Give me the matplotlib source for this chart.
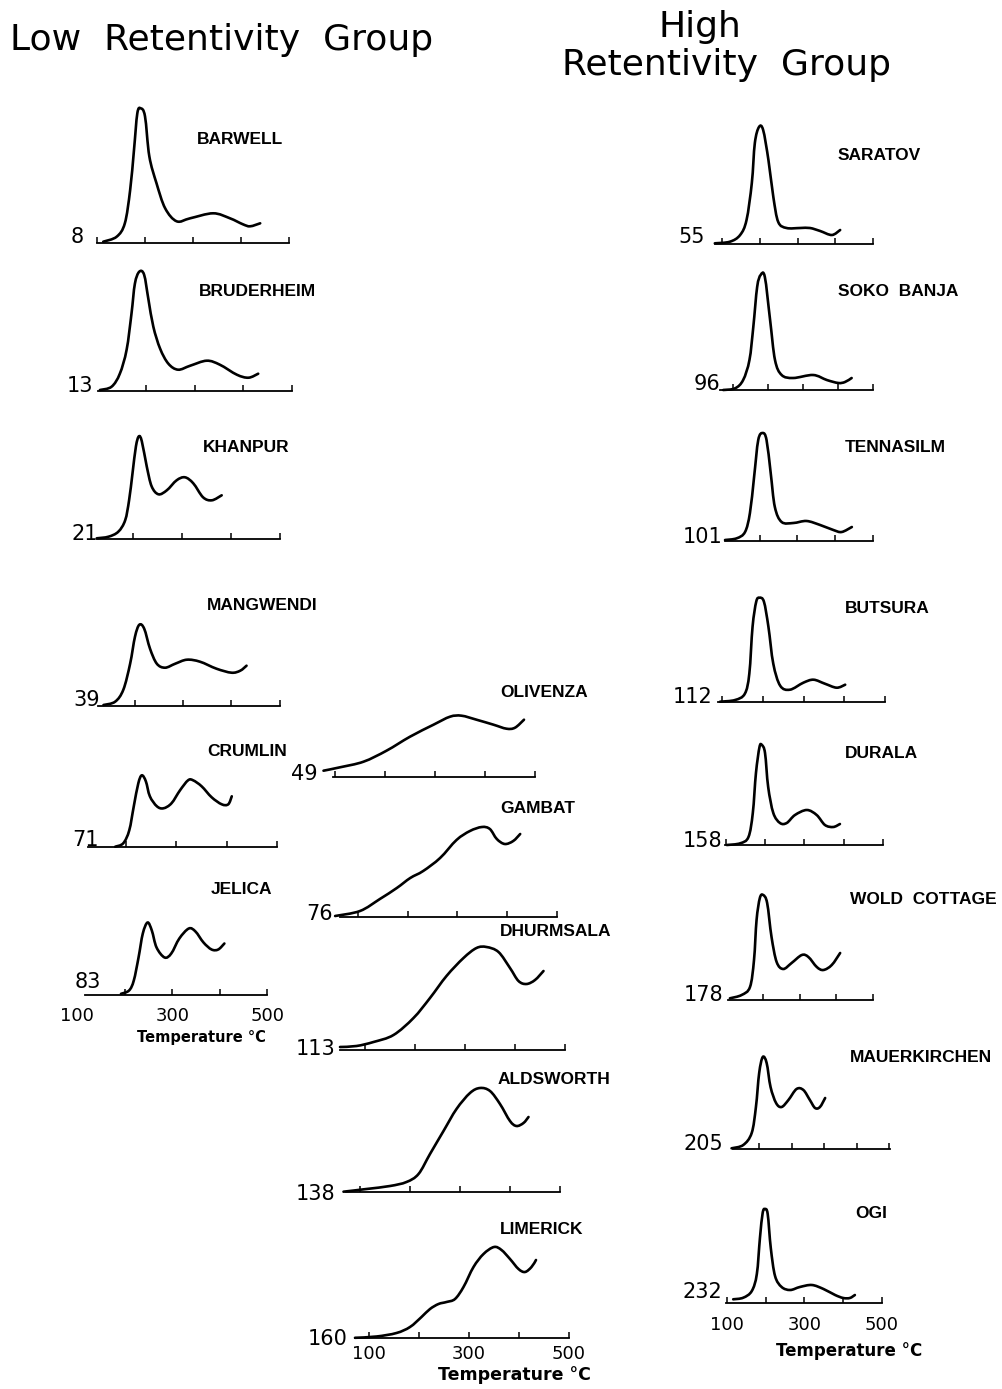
import matplotlib
matplotlib.use("Agg")
import matplotlib.pyplot as plt
from matplotlib.path import Path
from matplotlib.patches import PathPatch

W, H = 1003, 1389   # output size in pixels (dpi 100)

# --- glow curves: temperature (deg C) vs TL intensity (arbitrary units) -------
# low retentivity group
BARWELL_T = [113, 141, 158, 169, 177, 184, 191, 200, 209, 224, 242, 266, 294, 342, 377, 404, 419, 440]
BARWELL_I = [1.6, 6.6, 20, 53, 93, 130, 135, 127, 87, 60, 35, 22, 25, 30, 25, 19, 17, 20]
BRUDERHEIM_T = [105, 129, 146, 160, 170, 177, 186, 196, 205, 215, 229, 246, 266, 291, 325, 352, 387, 411, 431]
BRUDERHEIM_I = [0.7, 4, 17, 41, 77, 107, 119, 116, 91, 64, 42, 27, 21, 25, 30, 26, 16, 13, 17]
KHANPUR_T = [126, 150, 170, 184, 192, 199, 206, 212, 218, 228, 238, 252, 269, 289, 306, 323, 343, 361, 381]
KHANPUR_I = [1, 2.6, 7.6, 19, 39, 66, 93, 103, 98, 73, 53, 45, 49, 59, 62, 56, 42, 39, 44]
MANGWENDI_T = [136, 160, 177, 191, 201, 210, 220, 232, 246, 263, 284, 308, 335, 369, 400, 418, 431]
MANGWENDI_I = [0.7, 4, 16, 42, 69, 81, 77, 57, 42, 38, 42, 46, 44, 37, 33, 35, 40]
CRUMLIN_T = [178, 194, 206, 215, 224, 231, 239, 247, 261, 274, 290, 307, 323, 333, 350, 370, 390, 403, 410]
CRUMLIN_I = [0.6, 4, 17, 41, 64, 72, 66, 51, 41, 39, 44, 57, 67, 67, 61, 50, 43, 43, 51]
JELICA_T = [192, 209, 219, 229, 238, 248, 257, 267, 284, 298, 315, 335, 349, 366, 383, 397, 410]
JELICA_I = [0.7, 4, 14, 37, 61, 72, 64, 47, 37, 41, 56, 66, 63, 52, 45, 45, 51]
OLIVENZA_T = [77, 110, 157, 203, 250, 297, 330, 353, 383, 417, 443, 460, 478]
OLIVENZA_I = [6, 9.4, 15, 26, 40, 52, 60, 61, 57, 52, 48, 49, 57]
GAMBAT_T = [54, 104, 144, 178, 205, 231, 265, 298, 325, 349, 365, 379, 395, 412, 426]
GAMBAT_I = [1, 6, 18, 29, 39, 46, 59, 77, 86, 90, 88, 78, 73, 76, 83]
DHURMSALA_T = [50, 83, 117, 157, 197, 230, 263, 297, 323, 343, 367, 390, 407, 423, 440, 457]
DHURMSALA_I = [3, 4, 8, 15, 32, 52, 74, 92, 102, 103, 98, 82, 69, 66, 70, 79]
ALDSWORTH_T = [67, 113, 160, 193, 217, 240, 267, 293, 320, 340, 360, 380, 400, 413, 427, 437]
ALDSWORTH_I = [0.3, 3, 6, 10, 18, 38, 61, 83, 99, 104, 101, 88, 71, 66, 69, 75]
LIMERICK_T = [72, 115, 155, 182, 205, 222, 239, 255, 272, 289, 309, 329, 350, 365, 382, 399, 412, 425, 434]
LIMERICK_I = [0.2, 1.5, 5, 11, 21, 29, 34, 36, 39, 51, 71, 84, 91, 88, 79, 69, 66, 71, 78]
# high retentivity group
SARATOV_T = [81, 121, 148, 165, 179, 187, 198, 209, 223, 236, 249, 271, 307, 333, 360, 391, 413]
SARATOV_I = [0.7, 2.3, 9, 24, 61, 101, 117, 114, 84, 47, 22, 16, 16, 16, 13, 9, 14]
SOKO_BANJA_T = [72, 106, 129, 147, 158, 169, 179, 191, 206, 220, 239, 272, 329, 368, 401, 420, 439]
SOKO_BANJA_I = [0, 1.7, 10, 30, 63, 103, 115, 113, 70, 30, 15, 12, 15, 10, 7, 8, 12]
TENNASILM_T = [108, 139, 161, 174, 185, 196, 208, 218, 229, 240, 258, 289, 324, 360, 395, 417, 444]
TENNASILM_I = [1, 2.7, 9, 28, 64, 101, 108, 101, 68, 34, 19, 18, 20, 16, 11, 9, 14]
BUTSURA_T = [94, 131, 155, 166, 174, 183, 191, 202, 213, 225, 242, 266, 299, 324, 352, 381, 402]
BUTSURA_I = [0, 1.7, 8, 28, 75, 100, 104, 100, 75, 38, 16, 12, 19, 22, 18, 14, 17]
DURALA_T = [103, 137, 158, 169, 177, 186, 192, 200, 208, 221, 238, 255, 276, 306, 331, 352, 373, 390]
DURALA_I = [0, 1.7, 8, 32, 72, 98, 100, 92, 58, 32, 22, 22, 30, 35, 30, 20, 18, 21]
WOLD_COTTAGE_T = [108, 140, 163, 174, 181, 190, 199, 210, 222, 236, 254, 277, 305, 323, 346, 364, 387, 410]
WOLD_COTTAGE_I = [1.7, 5, 13, 40, 80, 102, 105, 97, 63, 38, 31, 37, 45, 43, 33, 30, 35, 47]
MAUERKIRCHEN_T = [114, 150, 176, 189, 199, 210, 222, 234, 251, 268, 289, 314, 335, 355, 371, 386, 402]
MAUERKIRCHEN_I = [0.7, 4, 16, 42, 76, 92, 86, 62, 46, 42, 49, 60, 59, 49, 41, 42, 51]
OGI_T = [116, 142, 164, 177, 185, 192, 198, 205, 213, 224, 241, 263, 288, 319, 349, 379, 400, 417, 430]
OGI_I = [3.7, 5.3, 12, 29, 65, 90, 94, 89, 55, 27, 16, 13, 16, 18, 14, 8, 5, 5, 8]

NAMES = ["BARWELL", "BRUDERHEIM", "KHANPUR", "MANGWENDI", "CRUMLIN", "JELICA",
         "OLIVENZA", "GAMBAT", "DHURMSALA", "ALDSWORTH", "LIMERICK",
         "SARATOV", "SOKO  BANJA", "TENNASILM", "BUTSURA", "DURALA",
         "WOLD  COTTAGE", "MAUERKIRCHEN", "OGI"]
NUMBERS = ["8", "13", "21", "39", "71", "83",
           "49", "76", "113", "138", "160",
           "55", "96", "101", "112", "158", "178", "205", "232"]
CURVES = [(BARWELL_T, BARWELL_I), (BRUDERHEIM_T, BRUDERHEIM_I), (KHANPUR_T, KHANPUR_I),
          (MANGWENDI_T, MANGWENDI_I), (CRUMLIN_T, CRUMLIN_I), (JELICA_T, JELICA_I),
          (OLIVENZA_T, OLIVENZA_I), (GAMBAT_T, GAMBAT_I), (DHURMSALA_T, DHURMSALA_I),
          (ALDSWORTH_T, ALDSWORTH_I), (LIMERICK_T, LIMERICK_I),
          (SARATOV_T, SARATOV_I), (SOKO_BANJA_T, SOKO_BANJA_I), (TENNASILM_T, TENNASILM_I),
          (BUTSURA_T, BUTSURA_I), (DURALA_T, DURALA_I), (WOLD_COTTAGE_T, WOLD_COTTAGE_I),
          (MAUERKIRCHEN_T, MAUERKIRCHEN_I), (OGI_T, OGI_I)]
TICK_LABELS = ["100", "300", "500"]

# --- layout (pixels): x of 100 C, x of 500 C, baseline y, axis span (C),
#     number label (right, bottom), name label (left, center),
#     temp-label (size, x, y in axes coords, tick-label pad)
LAYOUT = [
    (97, 289, 243.3, (100, 500), (84, 243), (197, 139), None),
    (97.5, 291.7, 390.7, (102, 500), (93, 392), (199, 292), None),
    (84, 280, 539.3, (126, 500), (98, 540), (203, 448), None),
    (86, 280, 705.7, (125, 500), (100, 706), (207, 606), None),
    (76, 277, 847.3, (124, 500), (99, 846), (207, 752), None),
    (72, 267, 994.5, (116, 500), (101, 988), (211, 890), (10.5, 0.646, -0.237, 9)),
    (335, 535, 776.7, (96, 500), (318, 780), (500, 693), None),
    (358, 557, 917, (64, 500), (333, 920), (500, 808), None),
    (365, 565, 1050, (50, 500), (335, 1055), (500, 932), None),
    (360, 560, 1192, (73, 500), (335, 1200), (498, 1080), None),
    (369, 569, 1338, (72, 500), (348, 1345), (500, 1230), (12.5, 0.74, -0.19, 5)),
    (722, 873, 244, (81, 500), (705, 243), (838, 155), None),
    (733, 873, 390, (63, 500), (720, 390), (838, 292), None),
    (722, 873, 541, (108, 500), (722, 543), (845, 447), None),
    (722.5, 885, 701.7, (90, 500), (712, 703), (845, 608), None),
    (725.6, 883.3, 845, (98, 500), (722, 847), (845, 753), None),
    (727, 873, 1000, (104, 500), (723, 1001), (850, 900), None),
    (727, 857, 1149, (119, 602), (723, 1150), (850, 1057), None),
    (727, 882, 1303, (97, 500), (722, 1298), (855, 1213), (12, 0.78, -0.26, 9)),
]
AX_H = 150  # axes height in px == intensity units

plt.rcParams["font.family"] = "DejaVu Sans"
fig = plt.figure(figsize=(W / 100, H / 100), dpi=100)


def fx(x):
    return x / W


def fy(y):
    return 1 - y / H


def glow_path(xs, ys):
    """Smooth (Catmull-Rom as cubic Bezier) path through the read points."""
    pts = list(zip(xs, ys))
    n = len(pts)
    verts, codes = [pts[0]], [Path.MOVETO]
    for i in range(n - 1):
        p0 = pts[i - 1] if i > 0 else pts[i]
        p1, p2 = pts[i], pts[i + 1]
        p3 = pts[i + 2] if i + 2 < n else pts[i + 1]
        c1 = (p1[0] + (p2[0] - p0[0]) / 6, p1[1] + (p2[1] - p0[1]) / 6)
        c2 = (p2[0] - (p3[0] - p1[0]) / 6, p2[1] - (p3[1] - p1[1]) / 6)
        verts += [c1, c2, p2]
        codes += [Path.CURVE4] * 3
    return Path(verts, codes)


for name, num, (T, I), lay in zip(NAMES, NUMBERS, CURVES, LAYOUT):
    x100, x500, y0, span, num_xy, name_xy, tlab = lay
    ppd = (x500 - x100) / 400.0
    lo = min(span[0], T[0]) - 5
    hi = max(span[1], T[-1]) + 5
    left = x100 - (100 - lo) * ppd
    ax = fig.add_axes([fx(left), fy(y0), (hi - lo) * ppd / W, AX_H / H])
    ax.set_xlim(lo, hi)
    ax.set_ylim(0, AX_H)
    ax.patch.set_visible(False)
    for s in ("top", "left", "right"):
        ax.spines[s].set_visible(False)
    ax.spines["bottom"].set_bounds(span[0], span[1])
    ax.spines["bottom"].set_linewidth(1.3)
    ax.set_yticks([])
    ticks = [t for t in range(100, 700, 100) if span[0] <= t <= span[1] + 3]
    ax.set_xticks(ticks, labels=[""] * len(ticks))
    ax.tick_params(axis="x", which="major", direction="in", length=4, width=1.1)
    ax.add_patch(PathPatch(glow_path(T, I), fill=False, edgecolor="black", lw=1.9,
                           clip_on=False, capstyle="round", joinstyle="round"))
    if tlab is not None:
        size, lx, ly, pad = tlab
        ax.xaxis.remove_overlapping_locs = False
        ax.set_xticks([100, 300, 500], labels=TICK_LABELS, minor=True)
        ax.tick_params(axis="x", which="minor", length=0, pad=pad, labelsize=13)
        ax.set_xlabel("Temperature °C", fontsize=size, fontweight="bold")
        ax.xaxis.set_label_coords(lx, ly)
    fig.text(fx(num_xy[0]), fy(num_xy[1]), num, ha="right", va="baseline", fontsize=15)
    fig.text(fx(name_xy[0]), fy(name_xy[1]), name, ha="left", va="center",
             fontsize=12.5, fontweight="bold", family="Liberation Sans")

fig.text(fx(10), fy(50), "Low  Retentivity  Group", ha="left", va="baseline", fontsize=26)
fig.text(fx(700), fy(37), "High", ha="center", va="baseline", fontsize=26)
fig.text(fx(562), fy(75), "Retentivity  Group", ha="left", va="baseline", fontsize=26)

fig.savefig("out.png", dpi=100)
